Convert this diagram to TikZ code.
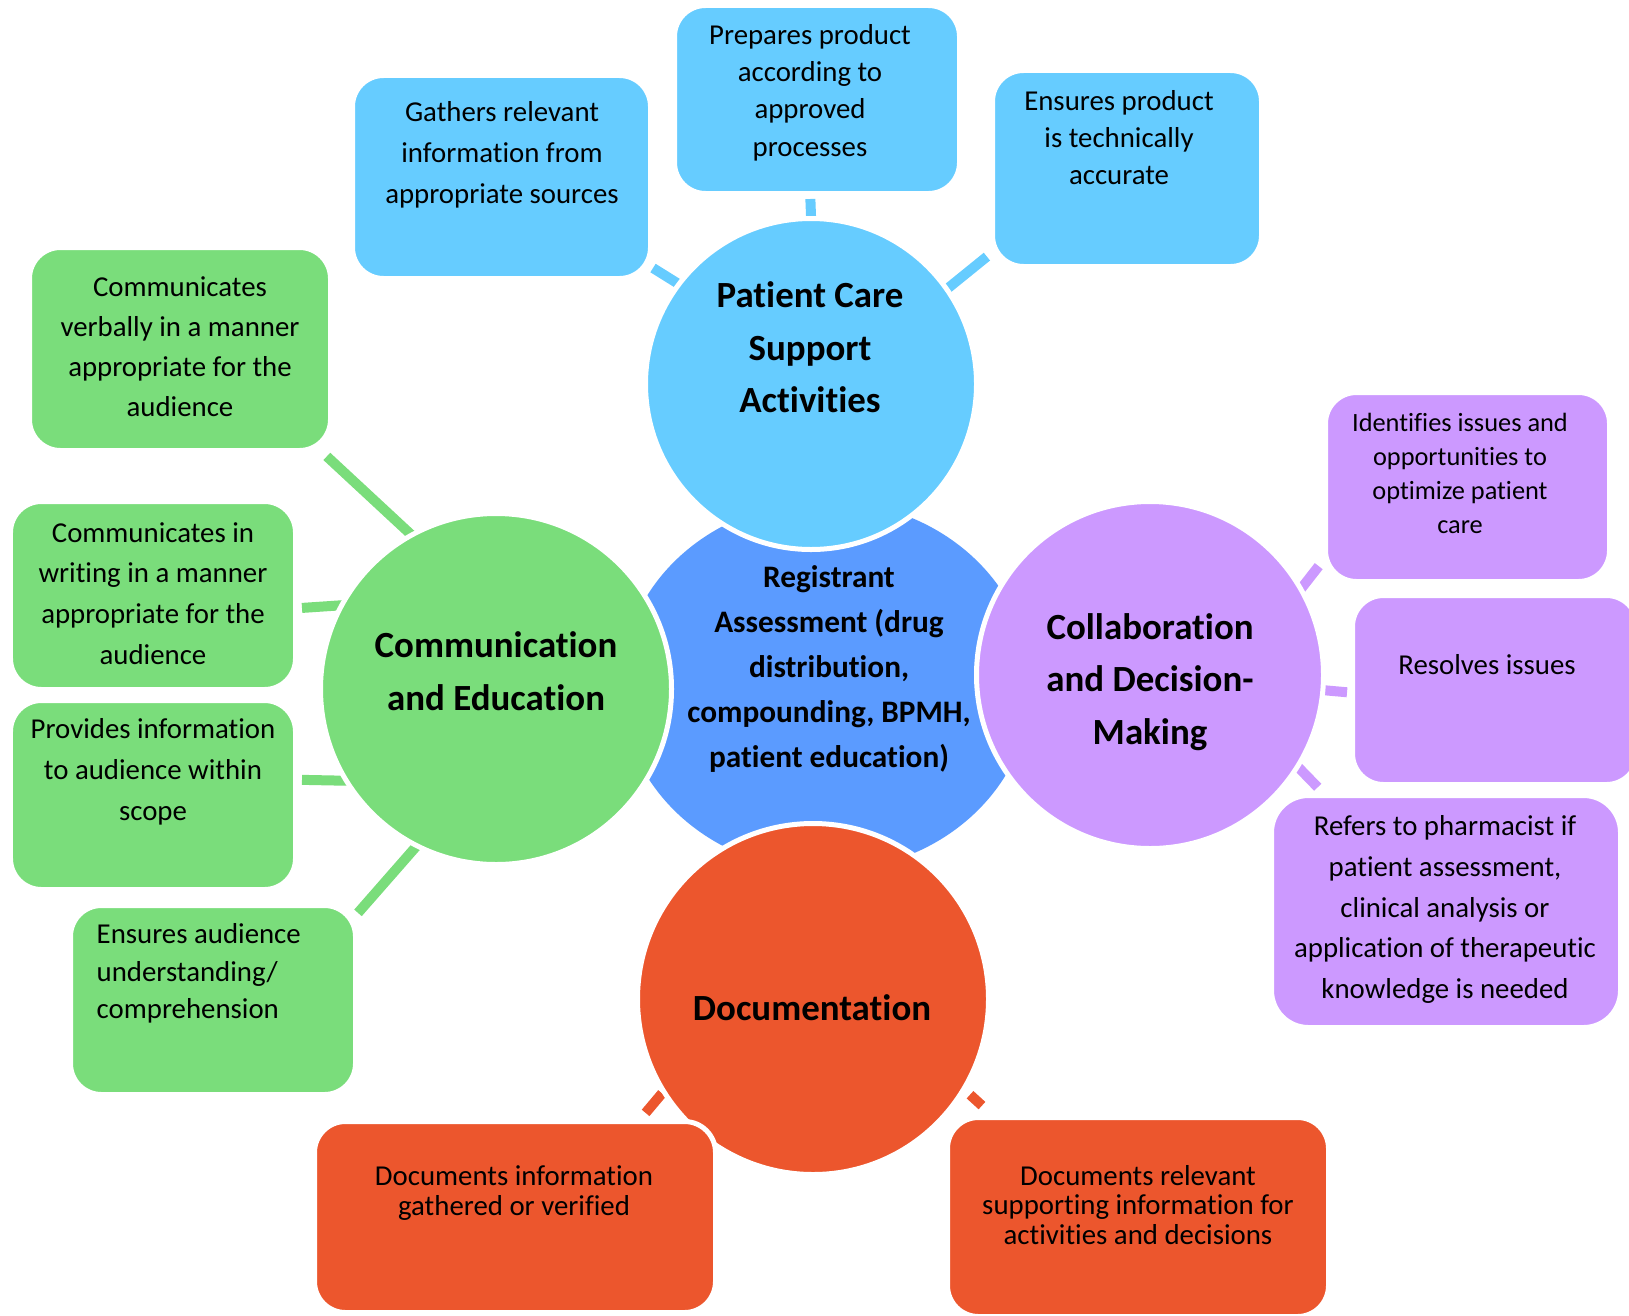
\documentclass[tikz,border=0pt]{standalone}
\usepackage{fontspec}
\setmainfont{Carlito}[RawFeature={-liga,-clig,-dlig,-rlig,-calt}]
\usetikzlibrary{shapes.geometric}

\definecolor{skyblue}{HTML}{66CCFF}
\definecolor{coreblue}{HTML}{5B9BFF}
\definecolor{leafgreen}{HTML}{7ADD7B}
\definecolor{lilac}{HTML}{CC99FF}
\definecolor{rust}{HTML}{EC562D}

\pgfdeclarelayer{bg}
\pgfsetlayers{bg,main}

\tikzset{
  hub/.style={circle, draw=white, line width=0.05cm, inner sep=0pt},
  card/.style={rectangle, rounded corners=0.31cm, draw=white, line width=0.05cm, inner sep=0pt},
  bar/.style={line width=0.1cm},
  title/.style={font=\bfseries\fontsize{10.5}{14.9}\selectfont, align=center, inner sep=0pt},
  blurb/.style={font=\fontsize{8.2}{11.6}\selectfont, align=center, inner sep=0pt}
}

\begin{document}
\begin{tikzpicture}
\useasboundingbox (0,0) rectangle (16.29,13.15);

% centre and the four areas
\node[ellipse, fill=coreblue, minimum width=4.10cm, minimum height=3.70cm, inner sep=0pt] (core) at (8.26,6.29) {};
\node[hub, fill=skyblue, minimum size=3.31cm] (pcs) at (8.11,9.31) {};
\node[hub, fill=leafgreen, minimum size=3.51cm] (comm) at (4.96,6.26) {};
\node[hub, fill=lilac, minimum size=3.47cm] (collab) at (11.50,6.40) {};
\node[hub, fill=rust, minimum size=3.51cm] (doc) at (8.13,3.16) {};

% patient care support
\node[card, fill=skyblue, minimum width=2.98cm, minimum height=2.03cm] (gather) at (5.015,11.38) {};
\node[card, fill=skyblue, minimum width=2.85cm, minimum height=1.88cm] (prepare) at (8.17,12.155) {};
\node[card, fill=skyblue, minimum width=2.69cm, minimum height=1.96cm] (ensure) at (11.27,11.465) {};

% communication
\node[card, fill=leafgreen, minimum width=3.01cm, minimum height=2.03cm] (verbal) at (1.80,9.66) {};
\node[card, fill=leafgreen, minimum width=2.85cm, minimum height=1.88cm] (writing) at (1.53,7.195) {};
\node[card, fill=leafgreen, minimum width=2.85cm, minimum height=1.89cm] (provide) at (1.53,5.20) {};
\node[card, fill=leafgreen, minimum width=2.85cm, minimum height=1.89cm] (audience) at (2.13,3.15) {};

% collaboration
\node[card, fill=lilac, minimum width=2.84cm, minimum height=1.89cm] (identify) at (14.675,8.28) {};
\node[card, fill=lilac, minimum width=2.85cm, minimum height=1.89cm] (resolve) at (14.95,6.25) {};
\node[card, fill=lilac, rounded corners=0.37cm, minimum width=3.49cm, minimum height=2.32cm] (refer) at (14.46,4.035) {};

% documentation
\node[card, fill=rust, minimum width=4.01cm, minimum height=1.91cm] (gathered) at (5.15,0.98) {};
\node[card, fill=rust, minimum width=3.81cm, minimum height=1.99cm] (relevant) at (11.38,0.98) {};

% links
\begin{pgfonlayer}{bg}
\draw[bar, skyblue, shorten >=-0.06cm] (gather.-31) -- (pcs.143);
\draw[bar, skyblue, shorten <=0.03cm, shorten >=-0.06cm] (prepare.-94) -- (pcs.90);
\draw[bar, skyblue, shorten <=0.04cm, shorten >=-0.06cm] (ensure.-148) -- (pcs.35);
\draw[bar, leafgreen, shorten <=0.05cm, shorten >=-0.06cm] (verbal.-36) -- (comm.119);
\draw[bar, leafgreen, shorten <=0.04cm, shorten >=-0.06cm] (writing.-5) -- (comm.152.5);
\draw[bar, leafgreen, shorten <=0.04cm, shorten >=-0.06cm] (provide.6) -- (comm.211);
\draw[bar, leafgreen, shorten >=-0.06cm] (audience.31) -- (comm.243);
\draw[bar, lilac, shorten <=0.07cm, shorten >=-0.06cm] (identify.207) -- (collab.30);
\draw[bar, lilac, shorten <=0.03cm, shorten >=-0.06cm] (resolve.181) -- (collab.-5);
\draw[bar, lilac, shorten <=0.08cm, shorten >=-0.06cm] (refer.136) -- (collab.-32);
\draw[bar, rust, shorten <=0.08cm] (gathered.38) -- (doc.212);
\draw[bar, rust, shorten <=0.14cm, shorten >=0.06cm] (relevant.145.5) -- (doc.-31);
\end{pgfonlayer}

% headings
\node[title, font=\bfseries\fontsize{8.9}{12.8}\selectfont] (core-t) at (8.29,6.46) {Registrant\\Assessment (drug\\distribution,\\compounding, BPMH,\\patient education)};
\node[title] (pcs-t) at (8.10,9.675) {Patient Care\\Support\\Activities};
\node[title] (comm-t) at (4.96,6.44) {Communication\\and Education};
\node[title] (collab-t) at (11.50,6.33) {Collaboration\\and Decision-\\Making};
\node[title] (doc-t) at (8.12,3.07) {Documentation};

% card texts
\node[blurb] (gather-t) at (5.02,11.60) {Gathers relevant\\information from\\appropriate sources};
\node[blurb, font=\fontsize{8.2}{10.6}\selectfont] (prepare-t) at (8.10,12.225) {Prepares product\\according to\\approved\\processes};
\node[blurb, font=\fontsize{8.2}{10.6}\selectfont] (ensure-t) at (11.19,11.775) {Ensures product\\is technically\\accurate};
\node[blurb, font=\fontsize{8.2}{11.4}\selectfont] (verbal-t) at (1.80,9.685) {Communicates\\verbally in a manner\\appropriate for the\\audience};
\node[blurb] (writing-t) at (1.53,7.215) {Communicates in\\writing in a manner\\appropriate for the\\audience};
\node[blurb] (provide-t) at (1.53,5.43) {Provides information\\to audience within\\scope};
\node[blurb, font=\fontsize{8.2}{10.7}\selectfont, align=left, anchor=west] (audience-t) at (0.96,3.415) {Ensures audience\\understanding/\\comprehension};
\node[blurb, font=\fontsize{7.5}{9.7}\selectfont] (identify-t) at (14.60,8.415) {Identifies issues and\\opportunities to\\optimize patient\\care};
\node[blurb] (resolve-t) at (14.87,6.50) {Resolves issues};
\node[blurb] (refer-t) at (14.45,4.055) {Refers to pharmacist if\\patient assessment,\\clinical analysis or\\application of therapeutic\\knowledge is needed};
\node[blurb, font=\fontsize{8.2}{8.5}\selectfont] (gathered-t) at (5.14,1.22) {Documents information\\gathered or verified};
\node[blurb, font=\fontsize{8.2}{8.4}\selectfont] (relevant-t) at (11.38,1.10) {Documents relevant\\supporting information for\\activities and decisions};
\end{tikzpicture}
\end{document}
